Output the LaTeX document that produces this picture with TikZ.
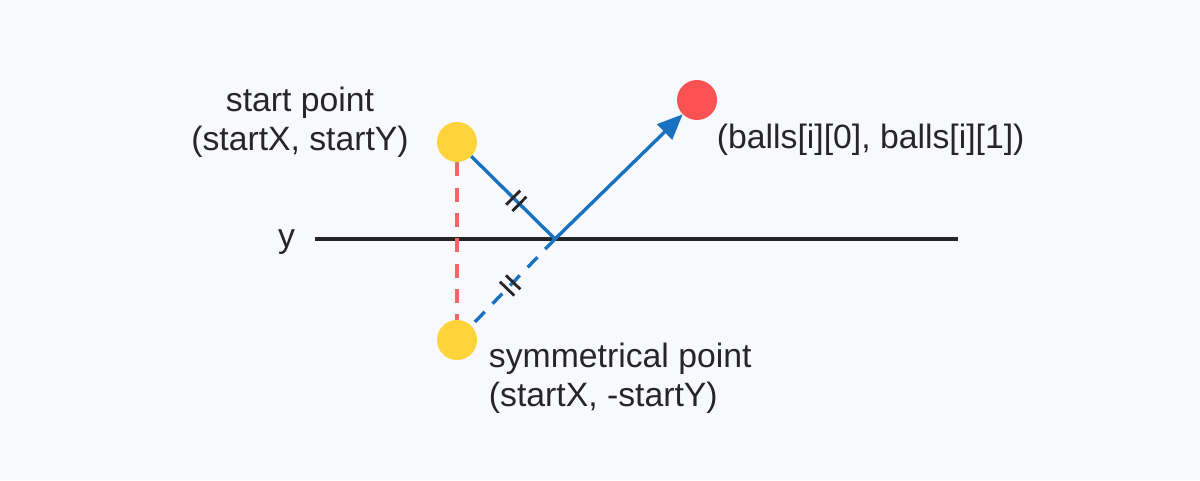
\documentclass[tikz,border=0pt]{standalone}
\usepackage{fontspec}
\setmainfont{Liberation Sans}
\usetikzlibrary{calc,arrows.meta}
\definecolor{bgc}{HTML}{F8F9FC}
\definecolor{ptyellow}{HTML}{FFD43B}
\definecolor{ptred}{HTML}{FA5252}
\definecolor{rayblue}{HTML}{1971C2}
\definecolor{guidered}{HTML}{F06565}
\tikzset{
  dot/.style={circle, minimum size=1cm, inner sep=0pt},
  lbl/.style={font=\fontsize{24}{28}\selectfont, text=black!85},
  ray/.style={draw=rayblue, line width=2.4pt},
  tick/.style={line width=2pt, black!85},
}
\begin{document}
\begin{tikzpicture}
\fill[bgc] (0,0) rectangle (30,12);
\useasboundingbox (0,0) rectangle (30,12);
% the line y
\draw[line width=2.6pt, black!85] (7.875,6.025) coordinate(yl) -- (23.95,6.025) coordinate(yr);
\node[lbl, anchor=east] (ylab) at (7.5,5.95) {y};
% points
\node[dot, fill=ptyellow] (start) at (11.425,8.45) {};
\node[dot, fill=ptyellow] (sym) at (11.425,3.5) {};
\node[dot, fill=ptred] (ball) at (17.425,9.5) {};
\coordinate (hit) at (13.875,6.025);
% labels
\node[lbl, align=center] (startlab) at (7.5,8.95) {start point\\(startX, startY)};
\node[lbl, anchor=west] (balllab) at (17.8,8.5) {(balls[i][0], balls[i][1])};
\node[lbl, anchor=north west, align=left] (symlab) at (12.1,3.55) {symmetrical point\\(startX, -startY)};
% guide
\draw[guidered, line width=2.4pt, dash pattern=on 10pt off 8pt] (start.south) -- (sym.north);
% rays
\draw[ray] (start.south east) -- (hit);
\draw[ray, -{Triangle[length=18pt,width=15pt]}] (hit) -- (ball.south west);
\draw[ray, dash pattern=on 10pt off 8pt] (hit) -- (sym.north east);
% equal marks
\foreach \a/\b in {start.south east/hit, hit/sym.north east}{
  \coordinate (m) at ($(\a)!0.5!(\b)$);
  \coordinate (n) at ($(m)!0.22cm!(\b)$);
  \draw[tick] ($(m)!0.25cm!90:(\b)$) -- ($(m)!0.25cm!-90:(\b)$);
  \draw[tick] ($(n)!0.25cm!90:(\b)$) -- ($(n)!0.25cm!-90:(\b)$);
}
\end{tikzpicture}
\end{document}
